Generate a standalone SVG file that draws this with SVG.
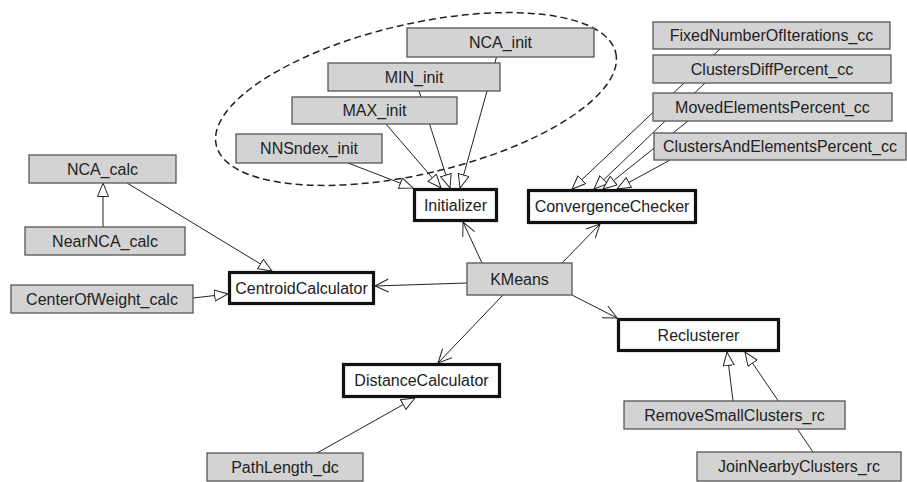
<svg xmlns="http://www.w3.org/2000/svg" width="907" height="482" viewBox="0 0 907 482">
  <style>
    .cls rect { fill: #d3d3d3; stroke: #555; stroke-width: 1.3; }
    .abs rect { fill: #fff; stroke: #111; stroke-width: 3.2; }
    text { font-family: "Liberation Sans", Arial, sans-serif; font-size: 16px; fill: #222; text-anchor: middle; }
    .gen { stroke: #222; stroke-width: 1; fill: none; marker-end: url(#tri); }
    .assoc { stroke: #222; stroke-width: 1; fill: none; marker-end: url(#open); }
    .pkg { fill: none; stroke: #222; stroke-width: 1.5; stroke-dasharray: 7 4; }
  </style>
  <defs>
    <marker id="tri" markerUnits="userSpaceOnUse" markerWidth="16" markerHeight="14" refX="14" refY="6" orient="auto">
      <path d="M0.5,0.5 L14,6 L0.5,11.5 Z" fill="#fff" stroke="#222" stroke-width="1"/>
    </marker>
    <marker id="open" markerUnits="userSpaceOnUse" markerWidth="16" markerHeight="16" refX="14" refY="7" orient="auto">
      <path d="M0.5,0.5 L14,7 L0.5,13.5" fill="none" stroke="#222" stroke-width="1"/>
    </marker>
  </defs>

  <!-- dashed grouping of the initializer strategies -->
  <ellipse class="pkg" cx="416" cy="99" rx="205" ry="75" transform="rotate(-13 416 99)"/>

  <g id="connectors">
    <!-- strategies realising Initializer -->
    <line class="gen" x1="348" y1="163" x2="413" y2="188"/>
    <line class="gen" x1="386" y1="124" x2="441" y2="188"/>
    <line class="gen" x1="419" y1="91" x2="450" y2="188"/>
    <line class="gen" x1="496.5" y1="57" x2="460" y2="188"/>
    <!-- strategies realising ConvergenceChecker -->
    <line class="gen" x1="720" y1="49" x2="572" y2="189"/>
    <line class="gen" x1="705" y1="83" x2="594" y2="189"/>
    <line class="gen" x1="688" y1="121" x2="603" y2="189"/>
    <line class="gen" x1="670" y1="160" x2="617" y2="189"/>
    <!-- centroid calculators -->
    <line class="gen" x1="103" y1="227" x2="103" y2="183"/>
    <line class="gen" x1="127" y1="183" x2="272" y2="271"/>
    <line class="gen" x1="193" y1="298" x2="228" y2="294"/>
    <!-- distance calculators -->
    <line class="gen" x1="317" y1="453" x2="415" y2="398"/>
    <!-- reclusterers -->
    <line class="gen" x1="733" y1="401" x2="727" y2="352"/>
    <line class="gen" x1="813" y1="452" x2="745" y2="352"/>
    <!-- KMeans associations -->
    <line class="assoc" x1="482" y1="263" x2="463" y2="222"/>
    <line class="assoc" x1="562" y1="263" x2="600" y2="224"/>
    <line class="assoc" x1="467" y1="283" x2="375" y2="286"/>
    <line class="assoc" x1="572" y1="295" x2="617" y2="318"/>
    <line class="assoc" x1="503" y1="295" x2="438" y2="363"/>
  </g>

  <g id="NCA_init" class="cls"><rect x="407" y="28" width="187" height="29"/><text x="500.5" y="48">NCA_init</text></g>
  <g id="MIN_init" class="cls"><rect x="328" y="63" width="172" height="28"/><text x="414" y="83">MIN_init</text></g>
  <g id="MAX_init" class="cls"><rect x="292" y="97" width="165" height="27"/><text x="374.5" y="116">MAX_init</text></g>
  <g id="NNSndex_init" class="cls"><rect x="236" y="134" width="146" height="29"/><text x="309" y="154">NNSndex_init</text></g>
  <g id="Initializer" class="abs"><rect x="414.5" y="189.5" width="82" height="31"/><text x="455.5" y="211">Initializer</text></g>

  <g id="FixedNumberOfIterations_cc" class="cls"><rect x="653" y="22" width="237" height="27"/><text x="771.5" y="41">FixedNumberOfIterations_cc</text></g>
  <g id="ClustersDiffPercent_cc" class="cls"><rect x="653" y="55" width="238" height="28"/><text x="772" y="75">ClustersDiffPercent_cc</text></g>
  <g id="MovedElementsPercent_cc" class="cls"><rect x="653" y="93" width="239" height="28"/><text x="772.5" y="113">MovedElementsPercent_cc</text></g>
  <g id="ClustersAndElementsPercent_cc" class="cls"><rect x="654" y="133" width="252" height="27"/><text x="780" y="152">ClustersAndElementsPercent_cc</text></g>
  <g id="ConvergenceChecker" class="abs"><rect x="528.5" y="190.5" width="167" height="32"/><text x="612" y="212">ConvergenceChecker</text></g>

  <g id="NCA_calc" class="cls"><rect x="29" y="155" width="147" height="28"/><text x="102.5" y="175">NCA_calc</text></g>
  <g id="NearNCA_calc" class="cls"><rect x="25" y="227" width="160" height="28"/><text x="105" y="247">NearNCA_calc</text></g>
  <g id="CenterOfWeight_calc" class="cls"><rect x="11" y="285" width="182" height="28"/><text x="102" y="305">CenterOfWeight_calc</text></g>
  <g id="CentroidCalculator" class="abs"><rect x="229.5" y="272.5" width="144" height="31"/><text x="301.5" y="294">CentroidCalculator</text></g>

  <g id="KMeans" class="cls"><rect x="467" y="263" width="105" height="32"/><text x="519.5" y="285">KMeans</text></g>

  <g id="DistanceCalculator" class="abs"><rect x="343.5" y="364.5" width="156" height="32"/><text x="421.5" y="386">DistanceCalculator</text></g>
  <g id="PathLength_dc" class="cls"><rect x="207" y="453" width="156" height="28"/><text x="285" y="473">PathLength_dc</text></g>

  <g id="Reclusterer" class="abs"><rect x="618.5" y="319.5" width="160" height="31"/><text x="698.5" y="341">Reclusterer</text></g>
  <g id="RemoveSmallClusters_rc" class="cls"><rect x="624" y="401" width="221" height="28"/><text x="734.5" y="421">RemoveSmallClusters_rc</text></g>
  <g id="JoinNearbyClusters_rc" class="cls"><rect x="697" y="452" width="204" height="29"/><text x="799" y="472">JoinNearbyClusters_rc</text></g>
</svg>
